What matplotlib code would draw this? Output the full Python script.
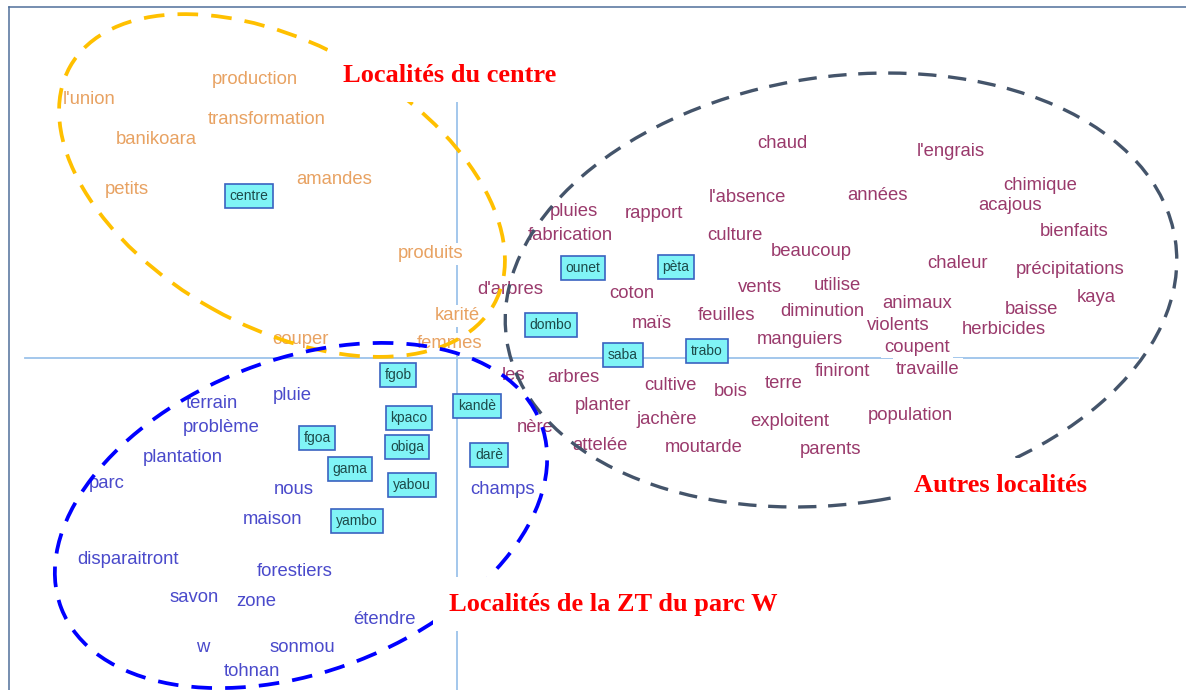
import matplotlib
matplotlib.use("Agg")
import matplotlib.pyplot as plt
from matplotlib.patches import Ellipse

# ---------------- data (factor coordinates: F1 horizontal, F2 vertical) ----------------
centre_words = ["production", "l'union", "transformation", "banikoara", "petits",
                "amandes", "produits", "karité", "couper", "femmes"]
centre_x = [-2.02, -3.68, -1.90, -3.01, -3.30, -1.23, -0.26, 0.00, -1.57, -0.07]
centre_y = [2.79, 2.58, 2.38, 2.19, 1.69, 1.78, 1.04, 0.42, 0.18, 0.14]

autres_words = ["chaud", "l'engrais", "acajous", "chimique", "l'absence", "années", "pluies",
                "rapport", "fabrication", "culture", "bienfaits", "beaucoup", "chaleur",
                "précipitations", "d'arbres", "coton", "vents", "utilise", "kaya", "animaux",
                "baisse", "diminution", "feuilles", "maïs", "violents", "herbicides",
                "manguiers", "coupent", "finiront", "travaille", "les", "arbres", "cultive",
                "bois", "terre", "planter", "jachère", "exploitent", "population", "nère",
                "attelée", "moutarde", "parents"]
autres_x = [3.25, 4.94, 5.53, 5.83, 2.90, 4.20, 1.17, 1.97, 1.13, 2.78, 6.17, 3.54, 5.00,
            6.13, 0.53, 1.75, 3.03, 3.80, 6.39, 4.60, 5.74, 3.65, 2.69, 1.95, 4.41, 5.47,
            3.43, 4.60, 3.85, 4.71, 0.57, 1.16, 2.13, 2.74, 3.27, 1.46, 2.10, 3.33, 4.53,
            0.78, 1.43, 2.47, 3.74]
autres_y = [2.14, 2.06, 1.53, 1.72, 1.61, 1.62, 1.46, 1.44, 1.23, 1.23, 1.26, 1.07, 0.94,
            0.89, 0.69, 0.65, 0.71, 0.73, 0.61, 0.54, 0.49, 0.47, 0.43, 0.34, 0.32, 0.29,
            0.19, 0.11, -0.13, -0.11, -0.18, -0.19, -0.27, -0.33, -0.25, -0.48, -0.62,
            -0.63, -0.57, -0.69, -0.87, -0.89, -0.92]

zt_words = ["terrain", "pluie", "problème", "plantation", "parc", "nous", "maison",
            "disparaitront", "forestiers", "savon", "zone", "étendre", "w", "sonmou",
            "tohnan", "champs"]
zt_x = [-2.45, -1.65, -2.36, -2.74, -3.50, -1.63, -1.84, -3.29, -1.62, -2.63, -2.01,
        -0.73, -2.54, -1.55, -2.05, 0.46]
zt_y = [-0.45, -0.37, -0.69, -1.00, -1.25, -1.32, -1.61, -2.01, -2.13, -2.39, -2.44,
        -2.62, -2.89, -2.89, -3.14, -1.32]

villages = ["centre", "ounet", "pèta", "dombo", "saba", "trabo", "fgob", "kpaco", "fgoa",
            "obiga", "gama", "yabou", "yambo", "kandè", "darè"]
villages_x = [-2.08, 1.26, 2.19, 0.94, 1.66, 2.50, -0.59, -0.48, -1.40, -0.50, -1.07,
              -0.45, -1.00, 0.20, 0.32]
villages_y = [1.62, 0.90, 0.91, 0.33, 0.03, 0.07, -0.17, -0.60, -0.80, -0.89, -1.11,
              -1.27, -1.63, -0.48, -0.97]

group_labels = ["Localités du centre", "Autres localités", "Localités de la ZT du parc W"]
group_label_x = [-0.07, 5.43, 1.56]
group_label_y = [2.83, -1.27, -2.46]

# ---------------- figure ----------------
fig = plt.figure(figsize=(11.86, 6.90), dpi=100)
ax = fig.add_axes([0, 0, 1, 1])
ax.set_xlim(-4.57, 7.29)
ax.set_ylim(-3.32, 3.58)
ax.axis("off")

# frame (left and top only)
frame_c = "#4f6f9a"
ax.plot([-4.48, -4.48], [-3.32, 3.51], color=frame_c, lw=1.1, zorder=1)
ax.plot([-4.48, 7.29], [3.51, 3.51], color=frame_c, lw=1.1, zorder=1)

# factor axes
axis_c = "#9cc3ea"
ax.plot([-4.32, 6.81], [0, 0], color=axis_c, lw=1.3, zorder=1)
ax.plot([0, 0], [2.59, -3.32], color=axis_c, lw=1.3, zorder=1)

word_font = ["Liberation Sans", "DejaVu Sans"]
wbox = dict(boxstyle="square,pad=0.15", facecolor="white", edgecolor="none")

def words(lst, xs, ys, color):
    for w, x, y in zip(lst, xs, ys):
        ax.text(x, y, w, color=color, fontsize=13.3, family=word_font,
                ha="center", va="center", bbox=wbox, zorder=2)

words(centre_words, centre_x, centre_y, "#e8a262")
words(autres_words, autres_x, autres_y, "#9a3a6c")
words(zt_words, zt_x, zt_y, "#4a4acb")

for w, x, y in zip(villages, villages_x, villages_y):
    ax.text(x, y, w, color="#1d4a4a", fontsize=10, family=word_font,
            ha="center", va="center", zorder=3,
            bbox=dict(boxstyle="square,pad=0.35", facecolor="#80f4f6",
                      edgecolor="#3a62c0", linewidth=1.2))

# group ellipses
ax.add_patch(Ellipse((-1.75, 1.725), 4.86, 2.83, angle=-29.3, fill=False,
                     edgecolor="#ffc000", lw=2.7, linestyle=(0, (5.5, 3.5)), zorder=4))
ax.add_patch(Ellipse((3.84, 0.68), 6.76, 4.27, angle=8.5, fill=False,
                     edgecolor="#44546a", lw=2.4, linestyle=(0, (5.5, 3.5)), zorder=4))
ax.add_patch(Ellipse((-1.56, -1.575), 5.14, 3.12, angle=21.2, fill=False,
                     edgecolor="#0000ff", lw=2.7, linestyle=(0, (5.5, 3.5)), zorder=4))

for t, x, y in zip(group_labels, group_label_x, group_label_y):
    ax.text(x, y, t, color="#ff0000", fontsize=19, fontweight="bold",
            family=["Liberation Serif", "DejaVu Serif"], ha="center", va="center",
            zorder=5, bbox=dict(boxstyle="square,pad=0.6", facecolor="white",
                                edgecolor="none"))

fig.savefig("out.png", dpi=100)
